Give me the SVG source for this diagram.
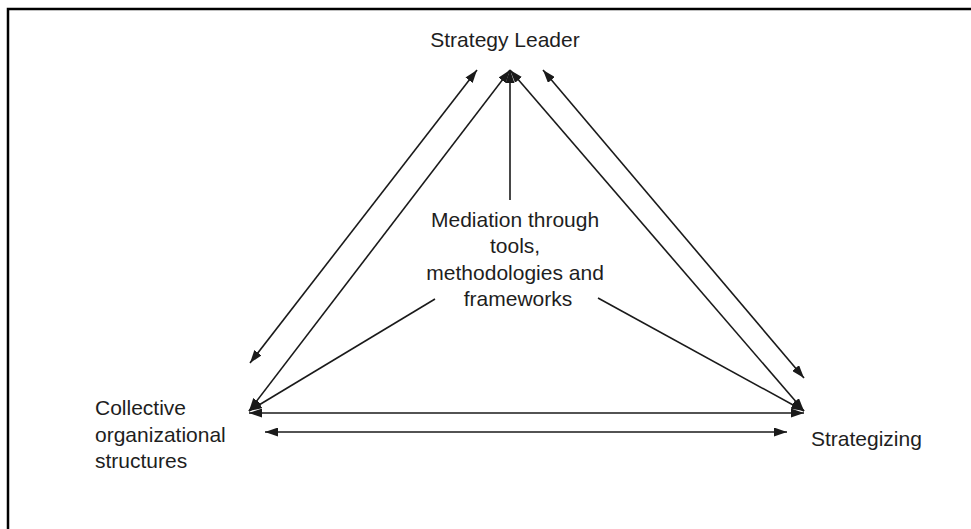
<svg xmlns="http://www.w3.org/2000/svg" width="971" height="529" viewBox="0 0 971 529">
<defs>
<marker id="ah" viewBox="0 0 13 9" refX="13" refY="4.5" markerWidth="13" markerHeight="9" markerUnits="userSpaceOnUse" orient="auto-start-reverse">
<path d="M0,0 L13,4.5 L0,9 z" fill="#1a1a1a"/>
</marker>
</defs>
<style>
.lbl{font-family:"Liberation Sans",Arial,sans-serif;font-size:21px;fill:#1e1e1e}
.c{stroke:#1a1a1a;stroke-width:1.6;fill:none}
</style>
<rect width="971" height="529" fill="#fff"/>
<path d="M8,529 L8,9 L971,9" fill="none" stroke="#000" stroke-width="2.5"/>
<g id="connectors">
<line class="c" x1="250" y1="363" x2="477" y2="70" marker-start="url(#ah)" marker-end="url(#ah)"/>
<line class="c" x1="249" y1="411" x2="510" y2="70" marker-start="url(#ah)" marker-end="url(#ah)"/>
<line class="c" x1="510" y1="200" x2="510" y2="70" marker-end="url(#ah)"/>
<line class="c" x1="510" y1="70" x2="804" y2="411" marker-start="url(#ah)" marker-end="url(#ah)"/>
<line class="c" x1="543" y1="70" x2="804" y2="378" marker-start="url(#ah)" marker-end="url(#ah)"/>
<line class="c" x1="435" y1="299" x2="249" y2="411" marker-end="url(#ah)"/>
<line class="c" x1="598" y1="298" x2="804" y2="411" marker-end="url(#ah)"/>
<line class="c" x1="249" y1="413" x2="804" y2="413" marker-start="url(#ah)" marker-end="url(#ah)"/>
<line class="c" x1="265" y1="432" x2="787" y2="432" marker-start="url(#ah)" marker-end="url(#ah)"/>
</g>
<g id="strategy-leader">
<text class="lbl" x="505" y="47" text-anchor="middle">Strategy Leader</text>
</g>
<g id="mediation">
<text class="lbl" text-anchor="middle">
<tspan x="518" y="227">Mediation through</tspan>
<tspan x="518" y="253">tools,</tspan>
<tspan x="518" y="280">methodologies and</tspan>
<tspan x="518" y="306">frameworks</tspan>
</text>
</g>
<g id="collective">
<text class="lbl">
<tspan x="95" y="415">Collective</tspan>
<tspan x="95" y="442">organizational</tspan>
<tspan x="95" y="468">structures</tspan>
</text>
</g>
<g id="strategizing">
<text class="lbl" x="811" y="446">Strategizing</text>
</g>
</svg>
